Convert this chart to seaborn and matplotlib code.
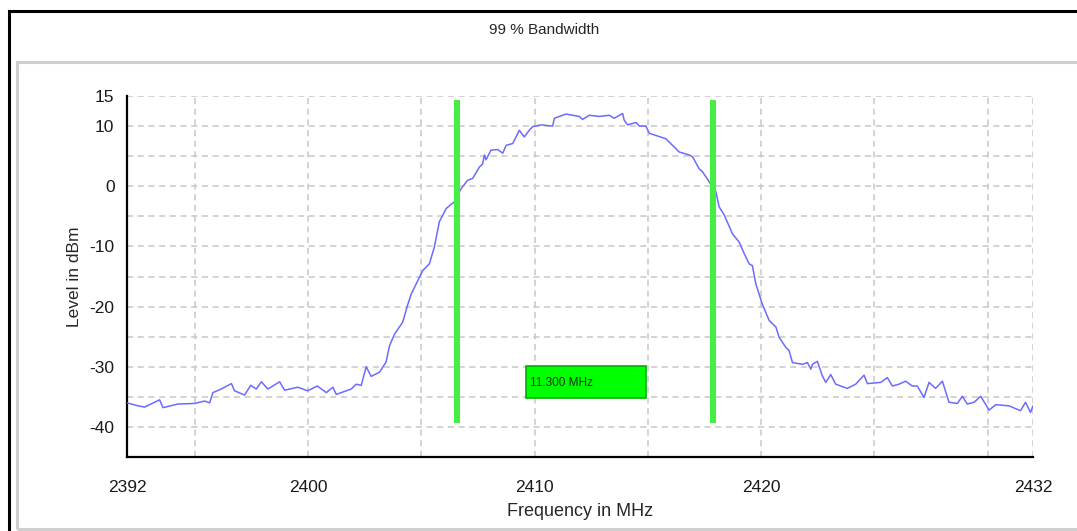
import numpy as np
import pandas as pd
import matplotlib
matplotlib.use("Agg")
import matplotlib.pyplot as plt
import matplotlib.patches as mpatches
import seaborn as sns

# spectrum trace
freq = [2392.00, 2392.49, 2392.78, 2393.44, 2393.59, 2394.24, 2394.99, 2395.43,
        2395.65, 2395.79, 2396.16, 2396.61, 2396.75, 2397.19, 2397.46, 2397.71,
        2397.93, 2398.22, 2398.74, 2398.96, 2399.54, 2399.98, 2400.40, 2400.80,
        2401.09, 2401.24, 2401.90, 2402.12, 2402.34, 2402.56, 2402.78, 2403.15,
        2403.44, 2403.59, 2403.81, 2404.17, 2404.40, 2404.55, 2404.84, 2405.06,
        2405.35, 2405.57, 2405.79, 2406.09, 2406.45, 2406.75, 2407.04, 2407.26,
        2407.56, 2407.70, 2407.78, 2407.85, 2408.07, 2408.37, 2408.59, 2408.74,
        2409.03, 2409.32, 2409.54, 2409.76, 2409.91, 2410.28, 2410.79, 2410.87,
        2411.38, 2411.97, 2412.11, 2412.41, 2412.85, 2413.29, 2413.51, 2413.88,
        2413.95, 2414.10, 2414.47, 2414.62, 2414.91, 2415.06, 2415.79, 2416.38,
        2416.82, 2416.97, 2417.26, 2417.41, 2417.71, 2418.00, 2418.14, 2418.37,
        2418.73, 2419.03, 2419.25, 2419.47, 2419.61, 2419.76, 2420.05, 2420.35,
        2420.65, 2420.79, 2421.09, 2421.23, 2421.38, 2421.82, 2422.04, 2422.19,
        2422.26, 2422.48, 2422.70, 2422.85, 2423.07, 2423.29, 2423.80, 2424.17,
        2424.54, 2424.69, 2425.28, 2425.57, 2425.79, 2426.08, 2426.38, 2426.67,
        2426.89, 2427.19, 2427.41, 2427.70, 2428.00, 2428.29, 2428.66, 2428.88,
        2429.10, 2429.40, 2429.69, 2430.06, 2430.36, 2430.94, 2431.45, 2431.67,
        2431.89, 2432.00]
level = [-36.0, -36.5, -36.7, -35.5, -36.8, -36.2, -36.1, -35.7,
         -36.0, -34.3, -33.7, -32.8, -34.0, -34.7, -33.1, -33.7,
         -32.5, -33.7, -32.5, -33.9, -33.4, -34.0, -33.2, -34.3,
         -33.4, -34.6, -33.7, -32.9, -33.1, -30.0, -31.6, -30.9,
         -29.2, -26.5, -24.6, -22.6, -19.6, -17.9, -15.7, -14.0,
         -12.9, -10.1, -5.9, -3.7, -2.6, -0.4, 1.0, 1.3,
         3.2, 3.7, 5.2, 4.4, 6.0, 6.1, 5.5, 6.8,
         7.1, 9.3, 8.2, 9.3, 9.9, 10.2, 10.0, 11.3,
         12.0, 11.6, 11.1, 11.8, 11.6, 11.8, 11.3, 12.1,
         11.0, 10.2, 10.6, 10.0, 10.0, 8.8, 7.9, 5.7,
         5.2, 4.9, 2.9, 2.4, 0.7, -0.9, -3.4, -4.8,
         -7.9, -9.3, -11.2, -12.9, -13.2, -16.2, -19.6, -22.3,
         -23.4, -25.1, -26.8, -27.3, -29.3, -29.6, -29.3, -30.4,
         -29.6, -29.1, -31.5, -32.6, -31.3, -32.9, -33.6, -32.9,
         -31.4, -32.8, -32.6, -31.8, -33.2, -32.9, -32.4, -33.2,
         -33.2, -35.1, -32.6, -33.6, -32.4, -35.9, -36.1, -34.9,
         -36.2, -35.9, -34.9, -37.2, -36.3, -36.5, -37.3, -35.9,
         -37.6, -36.5]

bw_edges = [2406.55, 2417.85]
bw_label = "11.300 MHz"

x_ticks = [2392, 2395, 2400, 2405, 2410, 2415, 2420, 2425, 2430, 2432]
x_labels = ["2392", "", "2400", "", "2410", "", "2420", "", "", "2432"]
y_ticks = [15, 10, 5, 0, -5, -10, -15, -20, -25, -30, -35, -40]
y_labels = ["15", "10", "", "0", "", "-10", "", "-20", "", "-30", "", "-40"]

df = pd.DataFrame({"Frequency": freq, "Level": level})

sns.set_theme(style="white")
plt.rcParams["font.family"] = ["Liberation Sans", "DejaVu Sans"]

fig = plt.figure(figsize=(10.77, 5.31), dpi=100)
ax = fig.add_axes([127 / 1077, 74 / 531, 906 / 1077, 361 / 531])

# outer frames
fig.patches.append(mpatches.Rectangle((9 / 1077, -0.05), 1.1, 1 - 11 / 531 + 0.05,
                                      transform=fig.transFigure, fill=False,
                                      edgecolor="black", lw=2.2))
fig.patches.append(mpatches.Rectangle((17 / 1077, 2 / 531), 1.1, 1 - 64 / 531,
                                      transform=fig.transFigure, fill=False,
                                      edgecolor="#cfcfcf", lw=2.2))

sns.lineplot(data=df, x="Frequency", y="Level", ax=ax, color="#6b6bff",
             lw=1.1, zorder=3)

for f in bw_edges:
    ax.plot([f, f], [14.3, -39.3], color="#44ee44", lw=4.3,
            solid_capstyle="butt", zorder=4)

ax.add_patch(mpatches.Rectangle((2409.6, -35.2), 5.3, 5.3, facecolor="#00ff00",
                                edgecolor="#00b000", lw=1.2, zorder=5))
ax.text(2409.78, -32.7, bw_label, fontsize=8.5, va="center", ha="left",
        color="#103010", zorder=6)

ax.set_xlim(2392, 2432)
ax.set_ylim(-45, 15)
ax.set_xticks(x_ticks)
ax.set_xticklabels(x_labels)
ax.set_yticks(y_ticks)
ax.set_yticklabels(y_labels)

ax.grid(True, color="#c8c8c8", linestyle=(0, (4, 3)), lw=1.1)
for s in ["top", "right"]:
    ax.spines[s].set_visible(False)
for s in ["left", "bottom"]:
    ax.spines[s].set_color("black")
    ax.spines[s].set_linewidth(1.6)

ax.tick_params(axis="y", direction="inout", length=10, width=1.6,
               color="black", labelsize=12.5, pad=4, labelcolor="#1a1a1a")
ax.tick_params(axis="x", direction="inout", length=9, width=1.6,
               color="black", labelsize=12.5, pad=12, labelcolor="#1a1a1a")

ax.set_xlabel("Frequency in MHz", fontsize=13, labelpad=6)
ax.set_ylabel("Level in dBm", fontsize=12.5, labelpad=5)
fig.text(544 / 1077, 1 - 30 / 531, "99 % Bandwidth", fontsize=11,
         ha="center", va="center")

plt.savefig("out.png", dpi=100)
plt.close()
